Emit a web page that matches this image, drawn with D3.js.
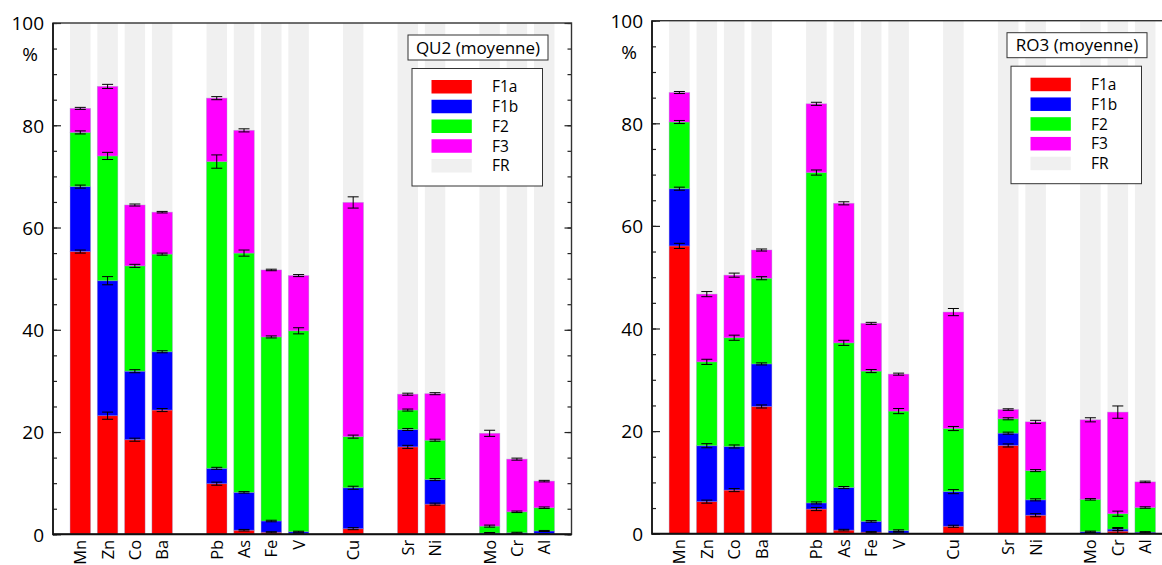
<!DOCTYPE html>
<html>
<head>
<meta charset="utf-8">
<script src="https://cdn.jsdelivr.net/npm/d3@7/dist/d3.min.js"></script>
<style>
  html, body { margin: 0; padding: 0; background: #fff; }
  svg { display: block; }
  text { font-family: "Open Sans", "Noto Sans", sans-serif; fill: #000; }
</style>
</head>
<body>
<svg id="chart" width="1162" height="565"></svg>
<script>
// ---------- DATA ----------
const groups = [["Mn","Zn","Co","Ba"],["Pb","As","Fe","V"],["Cu"],["Sr","Ni"],["Mo","Cr","Al"]];
const fractions = ["F1a","F1b","F2","F3","FR"];
const yMajorTicks = [0,20,40,60,80,100];
const yMinorTicks = [0,5,10,15,20,25,30,35,40,45,50,55,60,65,70,75,80,85,90,95,100];
const panelTitles = ["QU2 (moyenne)", "RO3 (moyenne)"];

// QU2 segment values (%) in element order Mn..Al
const qu2_F1a = [55.3, 23.2, 18.5, 24.3,  9.9, 0.8, 0.4, 0.1,  1.1, 17.1, 5.9, 0.05, 0.05, 0.1];
const qu2_F1b = [12.7, 26.4, 13.4, 11.4,  3.0, 7.4, 2.2, 0.4,  8.0,  3.4, 4.8, 0.2,  0.25, 0.55];
const qu2_F2  = [10.6, 24.4, 20.6, 19.1, 60.0, 46.8, 36.0, 39.3, 10.0, 3.8, 7.7, 1.35, 4.1, 4.55];
const qu2_F3  = [ 4.7, 13.6, 11.9,  8.2, 12.4, 24.0, 13.1, 10.8, 45.8, 3.1, 9.1, 18.15, 10.3, 5.2];
const qu2_errF1a = [0.3, 0.7, 0.3, 0.3, 0.3, 0.15, 0.1, 0.05, 0.2, 0.3, 0.2, 0.05, 0.05, 0.05];
const qu2_errF1b = [0.3, 0.8, 0.3, 0.2, 0.2, 0.15, 0.15, 0.1, 0.3, 0.2, 0.2, 0.1, 0.1, 0.1];
const qu2_errF2  = [0.3, 0.7, 0.3, 0.2, 1.3, 0.6, 0.2, 0.6, 0.3, 0.2, 0.2, 0.2, 0.15, 0.15];
const qu2_errF3  = [0.2, 0.4, 0.2, 0.15, 0.3, 0.3, 0.15, 0.2, 1.1, 0.2, 0.2, 0.6, 0.2, 0.15];

// RO3 segment values (%)
const ro3_F1a = [56.1,  6.25,  8.5, 24.8,  4.8, 0.7, 0.3, 0.1, 1.45, 17.2, 3.6, 0.1, 0.5, 0.05];
const ro3_F1b = [11.15, 10.9,  8.5,  8.3,  1.2, 8.3, 2.1, 0.5, 6.75,  2.4, 3.0, 0.3, 0.4, 0.25];
const ro3_F2  = [13.0, 16.35, 21.2, 16.7, 64.4, 28.2, 29.3, 23.3, 12.3, 2.8, 5.7, 6.3, 3.0, 4.8];
const ro3_F3  = [ 5.75, 13.2, 12.2,  5.5, 13.4, 27.2, 9.3, 7.2, 22.7, 1.8, 9.5, 15.5, 19.8, 5.0];
const ro3_errF1a = [0.5, 0.3, 0.3, 0.3, 0.3, 0.15, 0.1, 0.05, 0.2, 0.3, 0.3, 0.05, 0.5, 0.05];
const ro3_errF1b = [0.3, 0.4, 0.3, 0.2, 0.2, 0.2, 0.15, 0.15, 0.4, 0.2, 0.2, 0.1, 0.3, 0.1];
const ro3_errF2  = [0.3, 0.5, 0.5, 0.3, 0.5, 0.5, 0.3, 0.5, 0.4, 0.2, 0.2, 0.15, 0.5, 0.15];
const ro3_errF3  = [0.2, 0.5, 0.4, 0.2, 0.3, 0.3, 0.2, 0.2, 0.7, 0.15, 0.3, 0.4, 1.2, 0.15];
const frTotal = 100;

// ---------- STYLE ----------
const colors = {F1a:"#ff0000", F1b:"#0000ff", F2:"#00ff00", F3:"#ff00ff", FR:"#f0f0f0"};

const panels = [
  {title: panelTitles[0], vals:[qu2_F1a,qu2_F1b,qu2_F2,qu2_F3], errs:[qu2_errF1a,qu2_errF1b,qu2_errF2,qu2_errF3],
   x0:53, x1:571.5, yb:534.3, yt:23, pctY:54},
  {title: panelTitles[1], vals:[ro3_F1a,ro3_F1b,ro3_F2,ro3_F3], errs:[ro3_errF1a,ro3_errF1b,ro3_errF2,ro3_errF3],
   x0:652, x1:1172.6, yb:533.7, yt:20.7, pctY:52}
];

// slot list: groups separated by one empty slot
const elements = groups.flat();
const slots = [];
groups.forEach((g, gi) => { g.forEach(e => slots.push(e)); if (gi < groups.length - 1) slots.push("gap" + gi); });

const svg = d3.select("#chart");

panels.forEach(p => {
  const g = svg.append("g");
  const x = d3.scaleBand().domain(slots).range([p.x0, p.x1]).paddingInner(0.25).paddingOuter(0.625);
  const y = d3.scaleLinear().domain([0, 100]).range([p.yb, p.yt]);

  // FR background bars
  g.selectAll("rect.fr").data(elements).join("rect")
    .attr("class","fr")
    .attr("x", d => x(d)).attr("width", x.bandwidth())
    .attr("y", y(frTotal)).attr("height", y(0) - y(frTotal))
    .attr("fill", colors.FR);

  // stacked segments
  const stackRows = elements.map((e, i) => {
    const row = {el: e};
    fractions.slice(0,4).forEach((f, k) => row[f] = p.vals[k][i]);
    return row;
  });
  const series = d3.stack().keys(fractions.slice(0,4))(stackRows);
  series.forEach((s, k) => {
    g.selectAll("rect.s" + k).data(s).join("rect")
      .attr("class","s" + k)
      .attr("x", d => x(d.data.el)).attr("width", x.bandwidth())
      .attr("y", d => y(d[1])).attr("height", d => Math.max(0, y(d[0]) - y(d[1])))
      .attr("fill", colors[s.key])
      .attr("stroke", "rgba(160,150,200,0.45)").attr("stroke-width", 0.8);
  });
  // error bars
  series.forEach((s, k) => {
    const eg = g.append("g").attr("stroke", "#000").attr("stroke-width", 1).attr("fill","none");
    s.forEach((d, i) => {
      const cx = x(d.data.el) + x.bandwidth() / 2;
      const e = p.errs[k][i];
      const top = y(d[1] + e), bot = y(d[1] - e);
      const hw = 5.5;
      eg.append("line").attr("x1", cx).attr("x2", cx).attr("y1", top).attr("y2", bot);
      eg.append("line").attr("x1", cx - hw).attr("x2", cx + hw).attr("y1", top).attr("y2", top);
      eg.append("line").attr("x1", cx - hw).attr("x2", cx + hw).attr("y1", bot).attr("y2", bot);
    });
  });

  // y ticks (inward)
  const tickStyle = sel => { sel.select(".domain").remove(); sel.selectAll("line").attr("stroke","#222").attr("stroke-width",1.2); };
  g.append("g").attr("transform", `translate(${p.x0},0)`)
    .call(d3.axisRight(y).tickValues(yMinorTicks).tickSize(4).tickFormat("")).call(tickStyle);
  g.append("g").attr("transform", `translate(${p.x0},0)`)
    .call(d3.axisRight(y).tickValues(yMajorTicks).tickSize(8).tickFormat("")).call(tickStyle);
  g.append("g").attr("transform", `translate(${p.x1},0)`)
    .call(d3.axisLeft(y).tickValues(yMinorTicks).tickSize(4).tickFormat("")).call(tickStyle);
  g.append("g").attr("transform", `translate(${p.x1},0)`)
    .call(d3.axisLeft(y).tickValues(yMajorTicks).tickSize(7).tickFormat("")).call(tickStyle);
  // labels
  const lab = g.append("g").attr("transform", `translate(${p.x0},0)`)
    .call(d3.axisLeft(y).tickValues(yMajorTicks).tickSize(0).tickPadding(9));
  lab.select(".domain").remove();
  lab.selectAll("text").attr("font-size", 19).attr("font-family", "'Open Sans', sans-serif").attr("fill","#000").attr("dy","0.36em");
  g.append("text").attr("x", p.x0 - 23).attr("y", p.pctY).attr("dy","0.36em")
    .attr("text-anchor","middle").attr("font-size", 19).text("%");

  // frame
  g.append("rect").attr("x", p.x0).attr("y", p.yt).attr("width", p.x1 - p.x0).attr("height", p.yb - p.yt)
    .attr("fill","none").attr("stroke","#333").attr("stroke-width",1.4);
  g.append("line").attr("x1", p.x0).attr("x2", p.x1).attr("y1", p.yb).attr("y2", p.yb)
    .attr("stroke","#111").attr("stroke-width",2);
  g.append("line").attr("x1", p.x0).attr("x2", p.x0).attr("y1", p.yt).attr("y2", p.yb + 1)
    .attr("stroke","#111").attr("stroke-width",1.6);

  // x labels
  const xa = g.append("g").attr("transform", `translate(0,${p.yb})`)
    .call(d3.axisBottom(x).tickValues(elements).tickSize(0).tickPadding(0));
  xa.select(".domain").remove();
  xa.selectAll("text")
    .attr("font-size", 16.5).attr("font-family", "'Open Sans', sans-serif").attr("fill","#000")
    .attr("text-anchor","end")
    .attr("transform","rotate(-90)")
    .attr("x", -5.5).attr("y", 0).attr("dy","0.36em");

  // title box
  const tbx = p.x0 + 355, tby = p.yt + 12;
  g.append("rect").attr("x", tbx).attr("y", tby).attr("width", 140).attr("height", 25)
    .attr("fill","#fff").attr("stroke","#333").attr("stroke-width",1);
  g.append("text").attr("x", tbx + 70).attr("y", tby + 12.5).attr("dy","0.36em")
    .attr("text-anchor","middle").attr("font-size",17).text(p.title);

  // legend box
  const lbx = p.x0 + 359, lby = p.yt + 45.5;
  g.append("rect").attr("x", lbx).attr("y", lby).attr("width", 130.5).attr("height", 117.5)
    .attr("fill","#fff").attr("stroke","#333").attr("stroke-width",1);
  fractions.forEach((f, k) => {
    const ry = lby + 11.5 + k * 19.75;
    g.append("rect").attr("x", lbx + 19.5).attr("y", ry).attr("width", 40.3).attr("height", 13.5)
      .attr("fill", colors[f]);
    g.append("text").attr("x", lbx + 80).attr("y", ry + 6.75).attr("dy","0.36em")
      .attr("font-size",15.5).text(f);
  });
});
</script>
</body>
</html>
